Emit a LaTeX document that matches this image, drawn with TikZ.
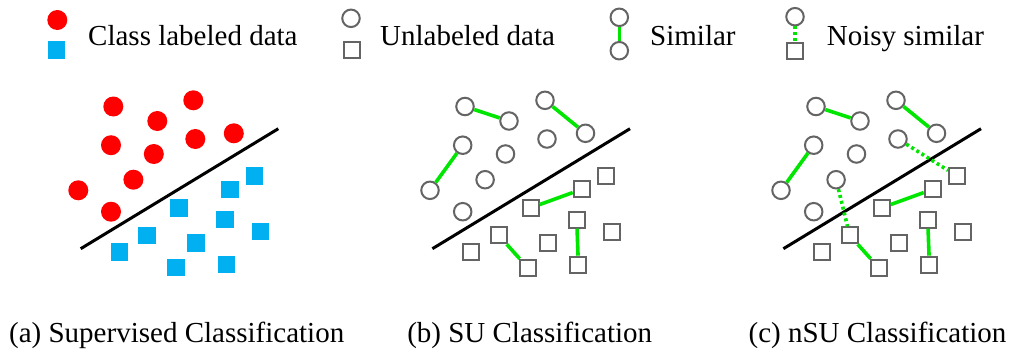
\documentclass[tikz,border=0pt]{standalone}
\usepackage{fontspec}
\setmainfont{Liberation Serif}
\definecolor{ptred}{RGB}{255,0,0}
\definecolor{ptblue}{RGB}{0,176,240}
\definecolor{ptgray}{RGB}{100,100,100}
\definecolor{simgreen}{RGB}{0,230,0}
\tikzset{
  labc/.style={circle,fill=ptred,inner sep=0pt,minimum size=20pt},
  labs/.style={rectangle,fill=ptblue,inner sep=0pt,minimum size=17.5pt},
  unc/.style={circle,draw=ptgray,line width=2pt,fill=white,inner sep=0pt,minimum size=17.5pt},
  uns/.style={rectangle,draw=ptgray,line width=2pt,fill=white,inner sep=0pt,minimum size=16pt},
  simedge/.style={simgreen,line width=3.6pt},
  noisyedge/.style={simgreen,line width=3.6pt,dash pattern=on 3pt off 3pt},
  sepline/.style={black,line width=3pt},
  lbl/.style={inner sep=0pt,font=\fontsize{29}{34}\selectfont},
}
\begin{document}
\begin{tikzpicture}[x=1pt,y=-1pt]
\useasboundingbox (0,0) rectangle (1011,349);

% legend
\node[labc] (lgA1) at (57.3,20) {};
\node[labs] (lgA2) at (56.7,50) {};
\node[lbl,anchor=base west] (lgAt) at (88,45) {Class labeled data};
\node[unc] (lgB1) at (351,18.3) {};
\node[uns] (lgB2) at (352.3,50) {};
\node[lbl,anchor=base west] (lgBt) at (380,45) {Unlabeled data};
\node[unc] (lgC1) at (619.3,17.3) {};
\node[unc] (lgC2) at (619.3,50.7) {};
\draw[simedge] (lgC1) -- (lgC2);
\node[lbl,anchor=base west] (lgCt) at (650,45) {Similar};
\node[unc] (lgD1) at (795,16.7) {};
\node[uns] (lgD2) at (795,50.7) {};
\draw[noisyedge] (lgD1) -- (lgD2);
\node[lbl,anchor=base west] (lgDt) at (826.7,45) {Noisy similar};

% three panels share one point layout
\foreach \p/\dx/\cs/\ss in {a/0/labc/labs, b/351.7/unc/uns, c/702.7/unc/uns}{
  \begin{scope}[xshift=\dx]
    \coordinate (\p l1) at (80.7,248.7);
    \coordinate (\p l2) at (278.3,128.7);
    \draw[sepline] (\p l1) -- (\p l2);
    \foreach \i/\x/\y in {1/113.3/106.5, 2/157.3/121, 3/193.3/100.3, 4/233.8/133.3,
        5/111/145.2, 6/195.3/139, 7/153.8/154, 8/133.4/179.7, 9/78.3/190.3, 10/111/211.7}
      \node[\cs] (\p c\i) at (\x,\y) {};
    \foreach \i/\x/\y in {1/254.3/176, 2/230/189.3, 3/179/207.8, 4/225/219.7,
        5/260.3/231.7, 6/147/235.3, 7/196/243, 8/119.3/252, 9/176/267.7, 10/226.7/264.7}
      \node[\ss] (\p s\i) at (\x,\y) {};
  \end{scope}
}

% similar pairs
\foreach \p in {b,c}{
  \draw[simedge] (\p c1) -- (\p c2);
  \draw[simedge] (\p c3) -- (\p c4);
  \draw[simedge] (\p c5) -- (\p c9);
  \draw[simedge] (\p s3) -- (\p s2);
  \draw[simedge] (\p s4) -- (\p s10);
  \draw[simedge] (\p s6) -- (\p s9);
}
% noisy pairs
\draw[noisyedge] (cc6) -- (cs1);
\draw[noisyedge] (cc8) -- (cs6);

% captions
\node[lbl,anchor=base] (capA) at (176.7,342.7) {(a) Supervised Classification};
\node[lbl,anchor=base] (capB) at (529.7,342.7) {(b) SU Classification};
\node[lbl,anchor=base] (capC) at (877.5,342.7) {(c) nSU Classification};
\end{tikzpicture}
\end{document}
